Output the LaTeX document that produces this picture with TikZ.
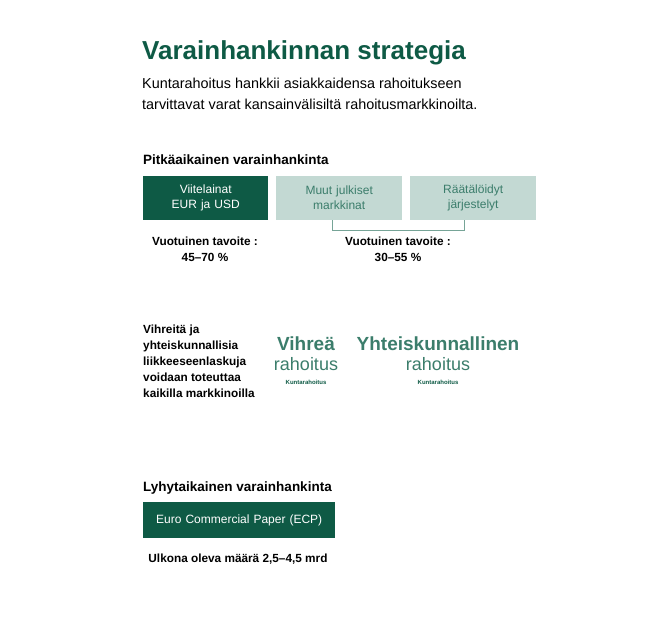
\documentclass[tikz,border=0pt]{standalone}
\usepackage{fontspec}
\setmainfont{Liberation Sans}
\usetikzlibrary{positioning,calc}
\definecolor{kdark}{HTML}{0E5A45}
\definecolor{klight}{HTML}{C3D9D3}
\definecolor{klogo}{HTML}{3B7D6B}
\tikzstyle{darkbox}=[rectangle, fill=kdark, text=white, minimum height=44pt,
 minimum width=125pt, inner sep=2pt, text centered, text width=120pt, font=\fontsize{12}{15}\selectfont]
\tikzstyle{lightbox}=[rectangle, fill=klight, text=klogo, minimum height=44pt,
 minimum width=126pt, inner sep=2pt, text centered, text width=120pt, font=\fontsize{12}{15}\selectfont]
\tikzstyle{head}=[anchor=west, inner sep=0pt, font=\bfseries\fontsize{13.5}{16}\selectfont]
\tikzstyle{goal}=[align=center, inner sep=0pt, font=\bfseries\fontsize{11.8}{16}\selectfont]
\tikzstyle{pline}=[-, draw=klogo!70, thick]
\begin{document}
\begin{tikzpicture}[x=1pt,y=-1pt]
\useasboundingbox (0,0) rectangle (666,640);

\node (TITLE) [anchor=west, inner sep=0pt, text=kdark, font=\bfseries\fontsize{26}{28}\selectfont]
 at (142,53) {Varainhankinnan strategia};
\node (SUB) [anchor=north west, inner sep=0pt, align=left, font=\fontsize{14.4}{21}\selectfont]
 at (142,78) {Kuntarahoitus hankkii asiakkaidensa rahoitukseen\\tarvittavat varat kansainvälisiltä rahoitusmarkkinoilta.};

\node (LONG) [head] at (143,160) {Pitkäaikainen varainhankinta};
\node (EUR) [darkbox, anchor=north west] at (143,176) {Viitelainat\\EUR ja USD};
\node (PUB) [lightbox, anchor=north west] at (276,176) {Muut julkiset\\markkinat};
\node (TAIL) [lightbox, anchor=north west] at (410,176) {Räätälöidyt\\järjestelyt};
\coordinate (BL) at ($(PUB.south)+(-7,10)$);
\coordinate (BR) at ($(TAIL.south)+(-9,10)$);
\draw[pline] (BL) ++(0,-10) -- (BL) -- (BR) -- ++(0,-10);

\node (GOAL1) [goal] at (205,249) {Vuotuinen tavoite :\\45–70 \%};
\node (GOAL2) [goal] at (398,249) {Vuotuinen tavoite :\\30–55 \%};

\node (GREEN) [anchor=west, inner sep=0pt, align=left, font=\bfseries\fontsize{11.8}{16}\selectfont]
 at (143,361) {Vihreitä ja\\yhteiskunnallisia\\liikkeeseenlaskuja\\voidaan toteuttaa\\kaikilla markkinoilla};

\node (VIH) [inner sep=0pt, text=klogo, font=\bfseries\fontsize{19}{20}\selectfont] at (306,344) {Vihreä};
\node (VIHR) [below=6pt of VIH, inner sep=0pt, text=klogo, font=\fontsize{18}{20}\selectfont] {rahoitus};
\node (VIHK) [below=9pt of VIHR, inner sep=0pt, text=kdark, font=\bfseries\fontsize{6}{7}\selectfont] {Kuntarahoitus};
\node (YHT) [inner sep=0pt, text=klogo, font=\bfseries\fontsize{19}{20}\selectfont] at (438,344) {Yhteiskunnallinen};
\node (YHTR) [below=6pt of YHT, inner sep=0pt, text=klogo, font=\fontsize{18}{20}\selectfont] {rahoitus};
\node (YHTK) [below=9pt of YHTR, inner sep=0pt, text=kdark, font=\bfseries\fontsize{6}{7}\selectfont] {Kuntarahoitus};

\node (SHORT) [head] at (143,488) {Lyhytaikainen varainhankinta};
\node (ECP) [darkbox, anchor=north west, minimum width=192pt, text width=188pt, minimum height=36pt]
 at (143,502) {Euro Commercial Paper (ECP)};
\node (AMT) [goal] at (238,559) {Ulkona oleva määrä 2,5–4,5 mrd};

\end{tikzpicture}
\end{document}
